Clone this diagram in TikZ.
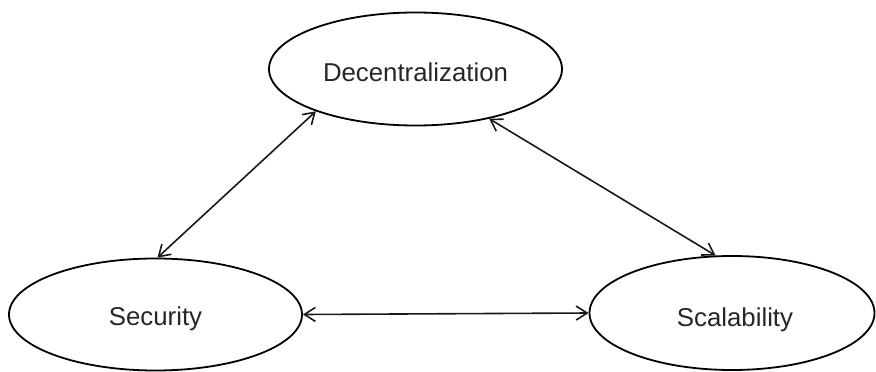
\documentclass[tikz,border=0pt]{standalone}
\usepackage{fontspec}
\setmainfont{Liberation Sans}
\usetikzlibrary{shapes.geometric,arrows.meta}

% lower a label inside its ellipse without changing the node's size
\newcommand{\lowered}[2]{\raisebox{-#1}[\height][\depth]{#2}}

\tikzset{
  goal/.style={ellipse, draw=black, line width=1.8pt, inner sep=0pt,
    minimum width=293pt, minimum height=113pt,
    font=\fontsize{25.8}{30}\selectfont, text=black!85},
  link/.style={line width=1.6pt, draw=black!90,
    {Straight Barb[length=11pt,width=14pt,line width=1.6pt]}-{Straight Barb[length=11pt,width=14pt,line width=1.6pt]}}
}

\begin{document}
\begin{tikzpicture}[x=1pt,y=-1pt]
  \useasboundingbox (0,0) rectangle (876,372);

  % the three properties of the trilemma
  \node[goal] (dec) at (415.5,69)  {\lowered{3pt}{Decentralization}};
  \node[goal, minimum height=112pt] (sec) at (155.5,314.5) {\lowered{4pt}{Security}};
  \node[goal, minimum width=285pt, minimum height=114pt] (sca) at (732,313)
    {\hspace*{6pt}\lowered{7pt}{Scalability}};

  % two-way trade-offs between them
  \draw[link] (dec.203) -- (sec.88);
  \draw[link] (dec.326) -- (sca.106);
  \draw[link] (sec.east) -- (sca.west);
\end{tikzpicture}
\end{document}
